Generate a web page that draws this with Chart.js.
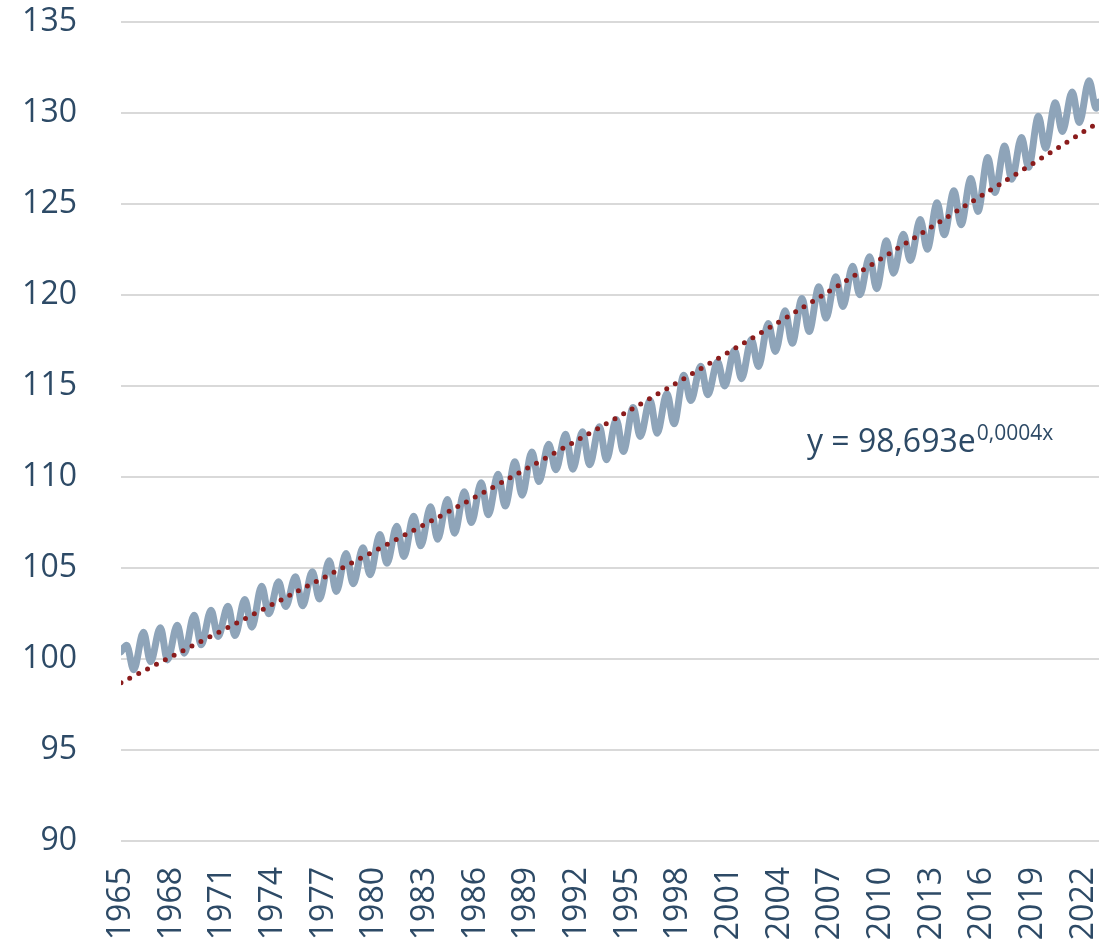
<!DOCTYPE html>
<html>
<head>
<meta charset="utf-8">
<script src="https://cdn.jsdelivr.net/npm/chart.js@4.4.0/dist/chart.umd.min.js"></script>
<style>
    html, body { margin: 0; padding: 0; background: #fff; overflow: hidden; }
    #wrap { width: 1114px; height: 960px; }
</style>
</head>
<body>
<div id="wrap"><canvas id="grafico"></canvas></div>
<script>
// Dados (índice, 1965 = ~100)
const anos = [1965, 1966, 1967, 1968, 1969, 1970, 1971, 1972, 1973, 1974,
    1975, 1976, 1977, 1978, 1979, 1980, 1981, 1982, 1983, 1984,
    1985, 1986, 1987, 1988, 1989, 1990, 1991, 1992, 1993, 1994,
    1995, 1996, 1997, 1998, 1999, 2000, 2001, 2002, 2003, 2004,
    2005, 2006, 2007, 2008, 2009, 2010, 2011, 2012, 2013, 2014,
    2015, 2016, 2017, 2018, 2019, 2020, 2021, 2022];

// máximo sazonal (maio)
const picos = [100.76, 101.47, 101.72, 101.85, 102.41, 102.68, 102.9, 103.27, 104.0, 104.24,
    104.52, 104.79, 105.4, 105.8, 106.11, 106.84, 107.3, 107.85, 108.36, 108.76,
    109.19, 109.68, 110.15, 110.84, 111.38, 111.8, 112.35, 112.48, 112.76, 113.16,
    113.82, 114.22, 114.59, 115.59, 116.09, 116.33, 116.97, 117.55, 118.43, 119.13,
    119.81, 120.45, 121.0, 121.58, 122.1, 122.98, 123.34, 124.15, 125.07, 125.73,
    126.4, 127.55, 128.18, 128.65, 129.82, 130.56, 131.16, 131.77];

// mínimo sazonal (outubro)
const vales = [99.41, 99.86, 99.95, 100.32, 100.78, 101.24, 101.29, 101.75, 102.48, 102.88,
    102.92, 103.3, 103.71, 104.13, 104.63, 105.26, 105.63, 106.22, 106.58, 106.91,
    107.5, 107.92, 108.4, 109.0, 109.75, 110.4, 110.43, 110.67, 110.95, 111.4,
    112.23, 112.41, 112.92, 114.2, 114.52, 115.0, 115.4, 116.07, 116.9, 117.35,
    117.99, 118.73, 119.37, 120.01, 120.35, 121.2, 121.9, 122.52, 123.31, 123.86,
    124.59, 125.63, 126.36, 127.02, 128.07, 128.98, 129.48, 130.26];

const mesPico = 5;
const mesVale = 10;
const pontoInicial = { x: 1965.0, y: 100.4 };
const pontoFinal = { x: 2022.92, y: 130.6 };

// linha de tendência exponencial
const tendAnos = [1965, 1975, 1985, 1995, 2005, 2015, 2022.92];
const tendValores = [98.7, 103.5, 108.4, 113.6, 119.1, 124.9, 129.5];

const rotulosAnos = [1965, 1968, 1971, 1974, 1977, 1980, 1983, 1986, 1989, 1992,
    1995, 1998, 2001, 2004, 2007, 2010, 2013, 2016, 2019, 2022];

const COR_TEXTO = '#2D4A66';

// monta a série mensal a partir dos picos e vales
const serie = [pontoInicial];
anos.forEach((ano, i) => {
    serie.push({ x: ano + (mesPico - 1) / 12, y: picos[i] });
    serie.push({ x: ano + (mesVale - 1) / 12, y: vales[i] });
});
serie.push(pontoFinal);

const tendencia = tendAnos.map((a, i) => ({ x: a, y: tendValores[i] }));

// rótulo da equação da tendência
const rotuloEquacao = {
    id: 'rotuloEquacao',
    afterDraw(chart) {
        const ctx = chart.ctx;
        ctx.save();
        ctx.fillStyle = COR_TEXTO;
        ctx.textBaseline = 'alphabetic';
        ctx.textAlign = 'left';
        ctx.font = '32px "Open Sans"';
        const base = 'y = 98,693e';
        ctx.fillText(base, 807, 452);
        const w = ctx.measureText(base).width;
        ctx.font = '21px "Open Sans"';
        ctx.fillText('0,0004x', 807 + w + 1, 440);
        ctx.restore();
    }
};

// zera as folgas automáticas dos eixos
const semFolga = s => { s.paddingTop = 0; s.paddingBottom = 0; s.paddingLeft = 0; s.paddingRight = 0; };

Chart.defaults.font.family = '"Open Sans", sans-serif';
Chart.defaults.color = COR_TEXTO;

const grafico = new Chart(document.getElementById('grafico'), {
    type: 'line',
    data: {
        datasets: [
            {
                label: 'Tendência',
                data: tendencia,
                borderColor: '#8B1C1C',
                borderWidth: 5,
                borderDash: [0, 10],
                borderCapStyle: 'round',
                pointRadius: 0,
                tension: 0.3,
                fill: false,
                order: 0
            },
            {
                label: 'Índice',
                data: serie,
                borderColor: '#8EA4B9',
                borderWidth: 7,
                borderJoinStyle: 'round',
                borderCapStyle: 'round',
                pointRadius: 0,
                cubicInterpolationMode: 'monotone',
                fill: false,
                order: 1
            }
        ]
    },
    options: {
        responsive: true,
        maintainAspectRatio: false,
        animation: false,
        layout: { padding: { top: 22, right: 15, left: 0, bottom: 0 } },
        plugins: { legend: { display: false }, tooltip: { enabled: false } },
        scales: {
            x: {
                type: 'linear',
                min: 1965,
                max: 2022.92,
                grid: { display: false },
                border: { display: false },
                afterBuildTicks: s => { s.ticks = rotulosAnos.map(v => ({ value: v })); },
                afterFit: s => { s.height = 119; semFolga(s); },
                ticks: {
                    minRotation: 90,
                    maxRotation: 90,
                    autoSkip: false,
                    padding: 18,
                    color: COR_TEXTO,
                    font: { size: 32 },
                    callback: v => String(v)
                }
            },
            y: {
                min: 90,
                max: 135,
                grid: { color: '#D9D9D9', lineWidth: 2, drawTicks: false },
                border: { display: false },
                afterFit: s => { s.width = 121; semFolga(s); },
                ticks: {
                    stepSize: 5,
                    padding: 44,
                    color: COR_TEXTO,
                    font: { size: 32 }
                }
            }
        }
    },
    plugins: [rotuloEquacao]
});

// ajusta a área do gráfico para coincidir com a referência
const alvo = { left: 121, top: 22, right: 1099, bottom: 841 };
for (let k = 0; k < 3; k++) {
    const ca = grafico.chartArea;
    const p = grafico.options.layout.padding;
    p.top += alvo.top - ca.top;
    p.left += alvo.left - ca.left;
    p.right += ca.right - alvo.right;
    p.bottom += ca.bottom - alvo.bottom;
    grafico.update();
}
</script>
</body>
</html>
